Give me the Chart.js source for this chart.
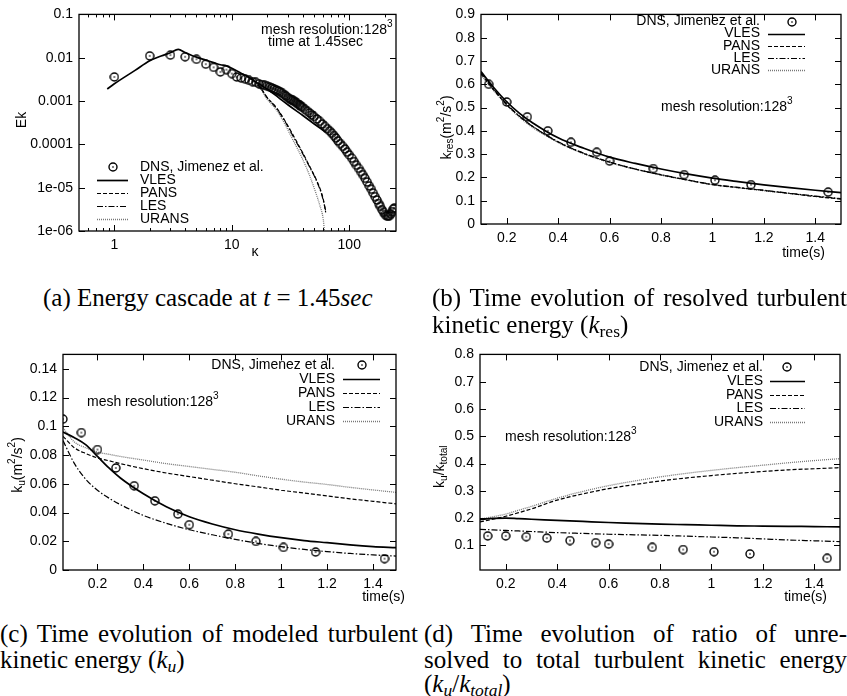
<!DOCTYPE html>
<html>
<head>
<meta charset="utf-8">
<script src="https://cdn.jsdelivr.net/npm/chart.js@4.4.0/dist/chart.umd.min.js"></script>
<style>
body { margin:0; background:#fff; width:847px; height:696px; position:relative; overflow:hidden; }
canvas { position:absolute; }
.cap { position:absolute; font-family:"Liberation Serif", serif; font-size:25px; line-height:26px; white-space:nowrap; color:#000; }
.just { text-align:justify; text-align-last:justify; }
.cap sub { font-size:0.7em; vertical-align:-0.25em; line-height:0; }
</style>
</head>
<body>
<canvas id="chartA" width="420" height="270" style="left:0;top:0"></canvas>
<canvas id="chartB" width="427" height="270" style="left:420px;top:0"></canvas>
<canvas id="chartC" width="420" height="270" style="left:0;top:340px"></canvas>
<canvas id="chartD" width="427" height="270" style="left:420px;top:340px"></canvas>

<div class="cap" style="left:43px;top:285px">(a) Energy cascade at <i>t</i> = 1.45<i>sec</i></div>
<div class="cap just" style="left:432px;top:285px;width:415px">(b) Time evolution of resolved turbulent</div>
<div class="cap" style="left:432px;top:312px">kinetic energy (<i>k</i><sub>res</sub>)</div>
<div class="cap just" style="left:0;top:621px;width:418px">(c) Time evolution of modeled turbulent</div>
<div class="cap" style="left:0;top:647px">kinetic energy (<i>k<sub>u</sub></i>)</div>
<div class="cap just" style="left:424px;top:621px;width:423px">(d) Time evolution of ratio of unre-</div>
<div class="cap just" style="left:424px;top:647px;width:423px">solved to total turbulent kinetic energy</div>
<div class="cap" style="left:424px;top:671px">(<i>k<sub>u</sub></i>/<i>k<sub>total</sub></i>)</div>

<script>
// (a) energy spectrum at t = 1.45 s
const specDnsK = [1,2,3,4,5,6,7,8,9,10,11,12,13,14,15,16,17,18,19,
    20,21,22,23,24,25,26,27,28,29,30,31,32,33,34,35,36,37,38,39,
    40,42,44,46,48,50,53,56,59,62,65,68,71,74,77,80,84,88,92,96,
    100,105,110,115,120,125,130,136,142,148,154,160,166,172,178,184,190,196,
    202,208,214,220,226,232,238,242];
const specDnsE = [0.0036,0.011,0.0115,0.0105,0.0092,0.0071,0.006,0.0047,0.0053,0.0043,
    0.0036,0.0034,0.0032,0.003,0.0028,0.0027,0.0025,0.0024,0.0023,
    0.0022,0.0021,0.002,0.0019,0.0018,0.0017,0.0016,0.0015,0.0014,0.0013,
    0.0012,0.00114,0.00108,0.00103,0.00098,0.00093,0.00088,0.00083,0.00079,0.00075,
    0.00071,0.00064,0.00058,0.00053,0.00048,0.00044,0.000385,0.00034,0.000295,0.00026,
    0.00023,0.000205,0.00018,0.00016,0.00014,0.00012,0.000104,9.0e-5,7.8e-5,6.6e-5,
    5.7e-5,4.8e-5,4.0e-5,3.3e-5,2.8e-5,2.35e-5,2.0e-5,1.65e-5,1.35e-5,1.1e-5,
    9.2e-6,7.5e-6,6.2e-6,5.2e-6,4.3e-6,3.7e-6,3.1e-6,2.7e-6,
    2.4e-6,2.25e-6,2.2e-6,2.25e-6,2.45e-6,2.8e-6,3.2e-6,3.4e-6];
const specVlesK = [0.87,1,1.5,2,2.5,3,3.5,4,5,6,7,8,9,10,12,14,17,20,25,30,40,50,63];
const specVlesE = [0.0019,0.0025,0.0051,0.0085,0.011,0.013,0.0155,0.0132,0.0103,0.0088,0.0077,0.0069,0.0065,
    0.0057,0.0044,0.0035,0.0025,0.0019,0.0012,0.00082,0.00047,0.0003,0.00019];
const specPansK = [14,17,20,24,28,33,40,46,52,56,60,63];
const specPansE = [0.0035,0.0023,0.0012,0.0007,0.00037,0.00017,6.5e-5,3.1e-5,1.6e-5,1.0e-5,5.5e-6,2.7e-6];
const specLesK = [14,17,20,24,28,33,40,46,52,56,60,63];
const specLesE = [0.0035,0.0023,0.0012,0.00068,0.00036,0.00016,6.2e-5,3.0e-5,1.55e-5,9.5e-6,5.2e-6,2.9e-6];
const specUransK = [14,17,20,24,28,33,40,46,52,56,60,61.5];
const specUransE = [0.0035,0.0022,0.0011,0.00062,0.00031,0.00013,4.6e-5,1.9e-5,7.5e-6,4.0e-6,1.9e-6,1.0e-6];

// time axes shared by (b), (c), (d)
const tDns = [0.13,0.2,0.28,0.36,0.45,0.55,0.6,0.77,0.89,1.01,1.15,1.45];
const tDnsU = [0.05,0.13,0.2,0.28,0.36,0.45,0.55,0.6,0.77,0.89,1.01,1.15,1.45];
const tModel = [0.1,0.15,0.2,0.25,0.3,0.4,0.5,0.6,0.7,0.8,0.9,1.0,1.1,1.2,1.3,1.4,1.5];
const tModelU = [0.05,0.1,0.15,0.2,0.25,0.3,0.4,0.5,0.6,0.7,0.8,0.9,1.0,1.1,1.2,1.3,1.4,1.5];

// (b) resolved kinetic energy
const kresDns = [0.60,0.524,0.46,0.40,0.351,0.308,0.27,0.238,0.212,0.188,0.169,0.137];
const kresVles = [0.655,0.585,0.525,0.475,0.435,0.37,0.325,0.287,0.26,0.236,0.215,0.197,0.182,0.168,0.156,0.145,0.135];
const kresPans = [0.645,0.575,0.512,0.462,0.42,0.352,0.303,0.266,0.236,0.211,0.189,0.169,0.156,0.144,0.131,0.118,0.107];
const kresLes = [0.65,0.578,0.515,0.463,0.42,0.353,0.304,0.266,0.236,0.212,0.19,0.17,0.157,0.145,0.132,0.12,0.109];
const kresUrans = [0.64,0.572,0.51,0.458,0.415,0.35,0.301,0.264,0.235,0.21,0.189,0.169,0.156,0.143,0.131,0.119,0.108];

// (c) modeled kinetic energy
const kuDns = [0.105,0.0956,0.0838,0.071,0.0586,0.0481,0.0389,0.0315,0.025,0.0199,0.0157,0.0125,0.0079];
const kuVles = [0.096,0.092,0.087,0.079,0.071,0.064,0.053,0.044,0.037,0.032,0.028,0.025,0.0225,0.0205,0.019,0.0175,0.0163,0.0155];
const kuPans = [0.093,0.085,0.081,0.078,0.076,0.074,0.0705,0.0675,0.065,0.0625,0.060,0.0578,0.0555,0.0535,0.0515,0.0495,0.0478,0.046];
const kuLes = [0.09,0.074,0.063,0.0555,0.05,0.0455,0.038,0.0325,0.028,0.0245,0.0213,0.0185,0.0162,0.0143,0.0128,0.0115,0.0105,0.0097];
const kuUrans = [0.099,0.089,0.085,0.082,0.0805,0.079,0.0765,0.074,0.072,0.07,0.068,0.0655,0.0632,0.0612,0.0595,0.0575,0.0557,0.054];

// (d) ratio k_u / k_total
const ratioDns = [0.135,0.135,0.132,0.127,0.118,0.110,0.105,0.093,0.085,0.077,0.069,0.053];
const ratioVles = [0.195,0.199,0.2,0.198,0.196,0.192,0.188,0.184,0.181,0.178,0.176,0.174,0.172,0.171,0.17,0.169,0.168];
const ratioPans = [0.186,0.196,0.207,0.22,0.234,0.266,0.289,0.308,0.323,0.336,0.347,0.356,0.364,0.371,0.377,0.381,0.385];
const ratioLes = [0.159,0.157,0.155,0.153,0.151,0.147,0.144,0.141,0.139,0.137,0.134,0.131,0.128,0.124,0.12,0.117,0.114];
const ratioUrans = [0.197,0.205,0.215,0.229,0.243,0.273,0.298,0.319,0.336,0.351,0.364,0.375,0.385,0.394,0.403,0.411,0.418];

// tick values and labels
const aXTicks = [1,10,100], aXLabels = ['1','10','100'];
const aXMinor = [0.6,0.7,0.8,0.9,2,3,4,5,6,7,8,9,20,30,40,50,60,70,80,90,200];
const aYTicks = [0.1,0.01,0.001,0.0001,1e-5,1e-6], aYLabels = ['0.1','0.01','0.001','0.0001','1e-05','1e-06'];
const tTicks = [0.2,0.4,0.6,0.8,1,1.2,1.4], tLabels = ['0.2','0.4','0.6','0.8','1','1.2','1.4'];
const bYTicks = [0,0.1,0.2,0.3,0.4,0.5,0.6,0.7,0.8,0.9], bYLabels = ['0','0.1','0.2','0.3','0.4','0.5','0.6','0.7','0.8','0.9'];
const cYTicks = [0,0.02,0.04,0.06,0.08,0.1,0.12,0.14], cYLabels = ['0','0.02','0.04','0.06','0.08','0.1','0.12','0.14'];
const dYTicks = [0.1,0.2,0.3,0.4,0.5,0.6,0.7,0.8], dYLabels = ['0.1','0.2','0.3','0.4','0.5','0.6','0.7','0.8'];

const FONT = '"Liberation Sans", Arial, sans-serif';
const FSIZE = 14;
Chart.defaults.font.family = FONT;
Chart.defaults.font.size = FSIZE;
Chart.defaults.color = '#000';

// gnuplot style circle-with-dot marker
const dotMark = document.createElement('canvas');
dotMark.width = dotMark.height = 10;
(function () {
    let c = dotMark.getContext('2d');
    c.strokeStyle = '#000';
    c.lineWidth = 1.4;
    c.beginPath();
    c.arc(5, 5, 4, 0, Math.PI * 2);
    c.stroke();
    c.fillStyle = '#000';
    c.fillRect(4.3, 4.3, 1.4, 1.4);
})();

const styles = {
    VLES: {borderColor: '#000', borderWidth: 1.7, borderDash: []},
    PANS: {borderColor: '#000', borderWidth: 1.2, borderDash: [4, 2]},
    LES: {borderColor: '#000', borderWidth: 1.2, borderDash: [6, 2, 1.5, 2]},
    URANS: {borderColor: '#777', borderWidth: 1.3, borderDash: [1, 1]}
};

function series(label, xs, ys) {
    return Object.assign({
        label: label,
        data: xs.map((x, i) => ({x: x, y: ys[i]})),
        pointRadius: 0,
        fill: false,
        cubicInterpolationMode: 'monotone'
    }, styles[label]);
}

function dns(xs, ys) {
    return {
        label: 'DNS, Jimenez et al.',
        data: xs.map((x, i) => ({x: x, y: ys[i]})),
        showLine: false,
        pointStyle: dotMark,
        pointRadius: 4
    };
}

// text with sub (1) / superscript (2) parts
function richText(ctx, parts, x, y, align) {
    let small = FSIZE * 0.72, widths = [], total = 0;
    parts.forEach(p => {
        ctx.font = (p[1] ? small : FSIZE) + 'px ' + FONT;
        let w = ctx.measureText(p[0]).width;
        widths.push(w);
        total += w;
    });
    let cx = align === 'right' ? x - total : align === 'center' ? x - total / 2 : x;
    ctx.textAlign = 'left';
    ctx.textBaseline = 'middle';
    parts.forEach((p, i) => {
        ctx.font = (p[1] ? small : FSIZE) + 'px ' + FONT;
        let dy = p[1] === 1 ? 4 : p[1] === 2 ? -5.5 : 0;
        ctx.fillText(p[0], cx, y + dy);
        cx += widths[i];
    });
}

// frame, inward ticks, legend, notes and axis titles
const decor = {
    id: 'decor',
    afterDraw(chart, args, o) {
        const ctx = chart.ctx, a = chart.chartArea;
        const xs = chart.scales.x, ys = chart.scales.y;
        ctx.save();
        ctx.strokeStyle = '#000';
        ctx.fillStyle = '#000';
        ctx.lineWidth = 1;
        ctx.beginPath();
        let tick = (v, len, isX) => {
            if (isX) {
                let p = Math.round(xs.getPixelForValue(v)) + 0.5;
                ctx.moveTo(p, a.bottom); ctx.lineTo(p, a.bottom - len);
                ctx.moveTo(p, a.top); ctx.lineTo(p, a.top + len);
            } else {
                let p = Math.round(ys.getPixelForValue(v)) + 0.5;
                ctx.moveTo(a.left, p); ctx.lineTo(a.left + len, p);
                ctx.moveTo(a.right, p); ctx.lineTo(a.right - len, p);
            }
        };
        xs.ticks.forEach(t => tick(t.value, 6, true));
        ys.ticks.forEach(t => tick(t.value, 6, false));
        (o.minorX || []).forEach(v => tick(v, 3, true));
        ctx.stroke();
        ctx.lineWidth = 1.3;
        ctx.strokeRect(a.left, a.top, a.right - a.left, a.bottom - a.top);

        // legend
        const lg = o.legend;
        chart.data.datasets.forEach((ds, i) => {
            let y = lg.rows[i];
            richText(ctx, [[ds.label, 0]], lg.textX, y, lg.side === 'left' ? 'left' : 'right');
            if (ds.showLine === false) {
                ctx.drawImage(dotMark, Math.round(lg.circleX - 5), Math.round(y - 5));
            } else {
                ctx.save();
                ctx.strokeStyle = ds.borderColor;
                ctx.lineWidth = ds.borderWidth;
                ctx.setLineDash(ds.borderDash);
                ctx.beginPath();
                ctx.moveTo(lg.lineX[0], Math.round(y) + 0.5);
                ctx.lineTo(lg.lineX[1], Math.round(y) + 0.5);
                ctx.stroke();
                ctx.restore();
            }
        });

        (o.notes || []).forEach(n => richText(ctx, n.parts, n.x, n.y, n.align || 'left'));
        if (o.xTitle) richText(ctx, o.xTitle.parts, o.xTitle.x, o.xTitle.y, o.xTitle.align);
        if (o.yTitle) {
            ctx.save();
            ctx.translate(o.yTitle.x, o.yTitle.y);
            ctx.rotate(-Math.PI / 2);
            richText(ctx, o.yTitle.parts, 0, 0, 'center');
            ctx.restore();
        }
        ctx.restore();
    }
};

function axis(type, min, max, ticks, labels, size, isX) {
    return {
        type: type,
        min: min,
        max: max,
        afterBuildTicks: s => { s.ticks = ticks.map(v => ({value: v})); },
        afterFit: s => { if (isX) s.height = size; else s.width = size; },
        grid: {display: false, drawTicks: false},
        border: {display: false},
        ticks: {
            autoSkip: false,
            maxRotation: 0,
            padding: 6,
            callback: (v, i) => labels[i]
        }
    };
}

function makeChart(id, datasets, scales, pad, decorOpts) {
    return new Chart(document.getElementById(id), {
        type: 'line',
        data: {datasets: datasets},
        options: {
            responsive: false,
            animation: false,
            devicePixelRatio: 1,
            layout: {padding: pad},
            scales: scales,
            plugins: {legend: {display: false}, tooltip: {enabled: false}, decor: decorOpts}
        },
        plugins: [decor]
    });
}

const mesh = [['mesh resolution:128', 0], ['3', 2]];

makeChart('chartA', [
    dns(specDnsK, specDnsE),
    series('VLES', specVlesK, specVlesE),
    series('PANS', specPansK, specPansE),
    series('LES', specLesK, specLesE),
    series('URANS', specUransK, specUransE)
], {
    x: axis('logarithmic', 0.5, 250, aXTicks, aXLabels, 39, true),
    y: axis('logarithmic', 1e-6, 0.1, aYTicks, aYLabels, 79, false)
}, {top: 9, right: 24, left: 0, bottom: 0}, {
    minorX: aXMinor,
    legend: {side: 'left', rows: [166.7, 180, 192.7, 205.7, 219], textX: 140, lineX: [97, 128], circleX: 113},
    notes: [{parts: mesh, x: 261, y: 30}, {parts: [['time at 1.45sec', 0]], x: 268, y: 42}],
    xTitle: {parts: [['\u03ba', 0]], x: 255, y: 252, align: 'center'},
    yTitle: {parts: [['Ek', 0]], x: 21.7, y: 120}
});

makeChart('chartB', [
    dns(tDns, kresDns),
    series('VLES', tModel, kresVles),
    series('PANS', tModel, kresPans),
    series('LES', tModel, kresLes),
    series('URANS', tModel, kresUrans)
], {
    x: axis('linear', 0.1, 1.5, tTicks, tLabels, 46, true),
    y: axis('linear', 0, 0.9, bYTicks, bYLabels, 61, false)
}, {top: 9, right: 6, left: 0, bottom: 0}, {
    legend: {side: 'right', rows: [21.5, 33.6, 45.7, 57.8, 69.9], textX: 340, lineX: [348, 385], circleX: 372},
    notes: [{parts: mesh, x: 241, y: 107}],
    xTitle: {parts: [['time(s)', 0]], x: 405, y: 253, align: 'right'},
    yTitle: {parts: [['k', 0], ['res', 1], ['(m', 0], ['2', 2], ['/s', 0], ['2', 2], [')', 0]], x: 26.7, y: 127.5}
});

makeChart('chartC', [
    dns(tDnsU, kuDns),
    series('VLES', tModelU, kuVles),
    series('PANS', tModelU, kuPans),
    series('LES', tModelU, kuLes),
    series('URANS', tModelU, kuUrans)
], {
    x: axis('linear', 0.05, 1.5, tTicks, tLabels, 40, true),
    y: axis('linear', 0, 0.15, cYTicks, cYLabels, 63, false)
}, {top: 14, right: 24, left: 0, bottom: 0}, {
    legend: {side: 'right', rows: [25, 39, 53, 67, 81], textX: 335, lineX: [343, 380], circleX: 362},
    notes: [{parts: mesh, x: 87, y: 62}],
    xTitle: {parts: [['time(s)', 0]], x: 405, y: 257, align: 'right'},
    yTitle: {parts: [['k', 0], ['u', 1], ['(m', 0], ['2', 2], ['/s', 0], ['2', 2], [')', 0]], x: 18, y: 125}
});

makeChart('chartD', [
    dns(tDns, ratioDns),
    series('VLES', tModel, ratioVles),
    series('PANS', tModel, ratioPans),
    series('LES', tModel, ratioLes),
    series('URANS', tModel, ratioUrans)
], {
    x: axis('linear', 0.1, 1.5, tTicks, tLabels, 40, true),
    y: axis('linear', 0.01, 0.8, dYTicks, dYLabels, 60, false)
}, {top: 14, right: 7, left: 0, bottom: 0}, {
    legend: {side: 'right', rows: [26.7, 40.7, 55, 68.3, 81.7], textX: 343, lineX: [350, 385], circleX: 367},
    notes: [{parts: mesh, x: 85, y: 97}],
    xTitle: {parts: [['time(s)', 0]], x: 407, y: 257, align: 'right'},
    yTitle: {parts: [['k', 0], ['u', 1], ['/k', 0], ['total', 1]], x: 20, y: 126.7}
});
</script>
</body>
</html>
